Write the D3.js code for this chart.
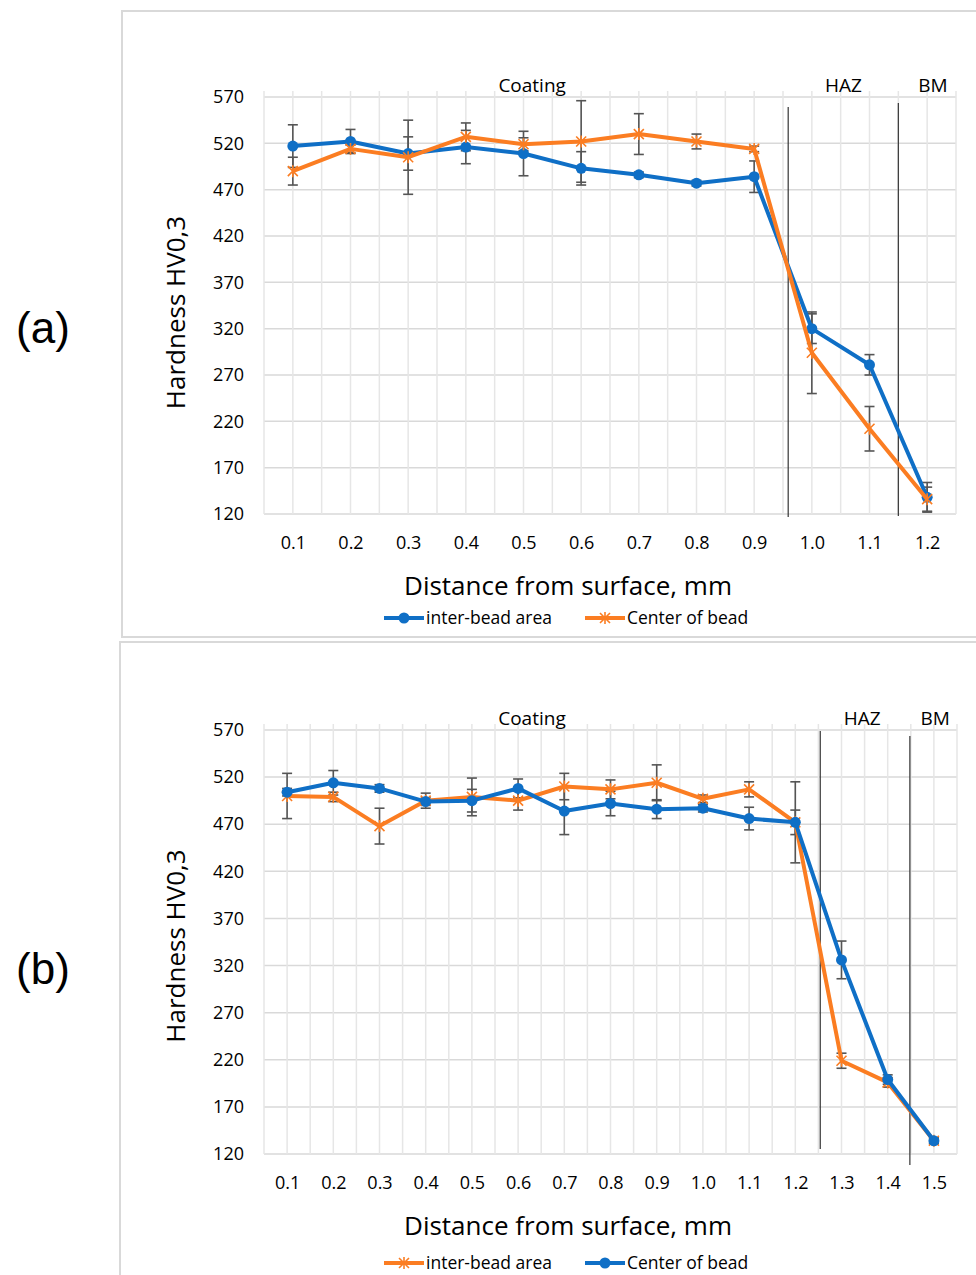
<!DOCTYPE html>
<html>
<head>
<meta charset="utf-8">
<script src="https://cdn.jsdelivr.net/npm/d3@7"></script>
<style>
  body { margin: 0; background: #fff; }
  text { font-family: "Open Sans", "Noto Sans", sans-serif; fill: #000; }
</style>
</head>
<body>
<div id="chart"></div>
<script>
var blue = "#0f6fc6", orange = "#fb7d22";

// y axis ticks, shared by both panels
var yTicks = [120, 170, 220, 270, 320, 370, 420, 470, 520, 570];

// panel (a)
var depthA = ["0.1","0.2","0.3","0.4","0.5","0.6","0.7","0.8","0.9","1.0","1.1","1.2"];
var interBeadA = [517, 522, 509, 516, 509, 493, 486, 477, 484, 320, 281, 138];
var interBeadErrA = [23, 13, 18, 18, 24, 18, 3, 3, 17, 16, 11, 16];
var centerA = [490, 514, 505, 527, 519, 522, 530, 522, 514, 294, 212, 136];
var centerErrA = [15, 4, 40, 15, 7, 44, 22, 8, 3, 44, 24, 13];

// panel (b)
var depthB = ["0.1","0.2","0.3","0.4","0.5","0.6","0.7","0.8","0.9","1.0","1.1","1.2","1.3","1.4","1.5"];
var interBeadB = [500, 499, 468, 495, 499, 495, 510, 507, 514, 497, 507, 472, 219, 196, 134];
var interBeadErrB = [24, 5, 19, 8, 20, 10, 14, 10, 19, 4, 8, 13, 8, 5, 3];
var centerB = [504, 514, 508, 494, 495, 508, 484, 492, 486, 487, 476, 472, 326, 199, 134];
var centerErrB = [4, 13, 4, 4, 12, 10, 25, 13, 10, 4, 12, 43, 20, 5, 3];

var svg = d3.select("#chart").append("svg")
  .attr("width", 976).attr("height", 1275);

function drawPanel(p) {
  var g = svg.append("g");

  // frame
  g.append("rect").attr("x", p.box[0]).attr("y", p.box[1])
    .attr("width", p.box[2]).attr("height", p.box[3])
    .attr("fill", "none").attr("stroke", "#d9d9d9").attr("stroke-width", 2);

  g.append("text").attr("x", 43).attr("y", p.tagY).attr("text-anchor", "middle")
    .style("font-size", "44px").style("font-family", "Liberation Sans, Arial, sans-serif")
    .text(p.tag);

  var x = d3.scalePoint().domain(p.cats).range([p.left, p.right]).padding(0.5);
  var step = x.step();
  var xi = function(i) { return x(p.cats[0]) + i * step; };
  var y = d3.scaleLinear().domain([120, 570]).range([p.bottom, p.top]);

  // grid: horizontal at ticks, vertical at every half category
  g.append("g").selectAll("line").data(yTicks).enter().append("line")
    .attr("x1", p.left).attr("x2", p.right)
    .attr("y1", function(d) { return y(d); }).attr("y2", function(d) { return y(d); })
    .attr("stroke", "#d9d9d9").attr("stroke-width", 1.5);
  var vx = d3.range(0, p.cats.length * 2 + 1).map(function(k) { return p.left + k * step / 2; });
  g.append("g").selectAll("line").data(vx).enter().append("line")
    .attr("x1", function(d) { return d; }).attr("x2", function(d) { return d; })
    .attr("y1", p.top - 6).attr("y2", p.bottom)
    .attr("stroke", "#e6e6e6").attr("stroke-width", 1.5);

  // axes
  var ya = g.append("g").attr("transform", "translate(" + (p.left - 20) + ",0)")
    .call(d3.axisLeft(y).tickValues(yTicks).tickSize(0).tickPadding(0));
  ya.select(".domain").remove();
  ya.selectAll("text").style("font-size", "18px");
  var xa = g.append("g").attr("transform", "translate(0," + (p.bottom + 22) + ")")
    .call(d3.axisBottom(x).tickSize(0).tickPadding(0));
  xa.select(".domain").remove();
  xa.selectAll("text").style("font-size", "18px");

  g.append("text").attr("x", 568).attr("y", p.bottom + 81).attr("text-anchor", "middle")
    .style("font-size", "26px").text("Distance from surface, mm");
  g.append("text").attr("transform", "translate(185," + ((p.top + p.bottom) / 2 + p.yTitleShift) + ") rotate(-90)")
    .attr("text-anchor", "middle").style("font-size", "26px").text("Hardness HV0,3");

  // zone boundaries
  p.zones.forEach(function(z) {
    g.append("line").attr("x1", xi(z[0])).attr("x2", xi(z[0]))
      .attr("y1", z[1]).attr("y2", z[2]).attr("stroke", "#333").attr("stroke-width", 1.2);
  });
  p.labels.forEach(function(l) {
    g.append("text").attr("x", xi(l[1])).attr("y", p.top - 5).attr("text-anchor", "middle")
      .style("font-size", "19px").text(l[0]);
  });

  var line = d3.line().x(function(d, i) { return x(p.cats[i]); }).y(function(d) { return y(d); });

  p.series.forEach(function(s) {
    // error bars
    var eb = g.append("g");
    s.values.forEach(function(v, i) {
      var cx = x(p.cats[i]), e = s.err[i];
      eb.append("line").attr("x1", cx).attr("x2", cx).attr("y1", y(v - e)).attr("y2", y(v + e))
        .attr("stroke", "#555").attr("stroke-width", 1.6);
      [v - e, v + e].forEach(function(c) {
        eb.append("line").attr("x1", cx - 5).attr("x2", cx + 5).attr("y1", y(c)).attr("y2", y(c))
          .attr("stroke", "#555").attr("stroke-width", 1.6);
      });
    });
  });
  p.series.forEach(function(s) {
    g.append("path").datum(s.values).attr("d", line)
      .attr("fill", "none").attr("stroke", s.color).attr("stroke-width", 4)
      .attr("stroke-linejoin", "round");
    s.values.forEach(function(v, i) {
      drawMarker(g, x(p.cats[i]), y(v), s);
    });
  });

  // legend
  p.series.forEach(function(s, k) {
    var lx = p.legendX[k], ly = p.legendY;
    g.append("line").attr("x1", lx).attr("x2", lx + 40).attr("y1", ly).attr("y2", ly)
      .attr("stroke", s.color).attr("stroke-width", 4);
    drawMarker(g, lx + 20, ly, s);
    g.append("text").attr("x", lx + 42).attr("y", ly).attr("dy", "0.35em")
      .style("font-size", "17.5px").text(s.name);
  });
}

function drawMarker(g, cx, cy, s) {
  if (s.marker === "circle") {
    g.append("circle").attr("cx", cx).attr("cy", cy).attr("r", 5.5).attr("fill", s.color);
  } else {
    var r = 5;
    g.append("path")
      .attr("d", "M" + (cx - r) + "," + (cy - r) + "L" + (cx + r) + "," + (cy + r) +
                 "M" + (cx - r) + "," + (cy + r) + "L" + (cx + r) + "," + (cy - r) +
                 "M" + cx + "," + (cy - r - 1) + "L" + cx + "," + (cy + r + 1))
      .attr("stroke", s.color).attr("stroke-width", 1.6).attr("fill", "none");
  }
}

drawPanel({
  box: [122, 11, 870, 626], tag: "(a)", tagY: 343,
  cats: depthA, left: 264, right: 956, top: 97, bottom: 514, yTitleShift: 7,
  zones: [[8.59, 107, 517], [10.5, 103, 516]],
  labels: [["Coating", 4.15], ["HAZ", 9.55], ["BM", 11.1]],
  series: [
    {name: "inter-bead area", values: interBeadA, err: interBeadErrA, color: blue, marker: "circle"},
    {name: "Center of bead", values: centerA, err: centerErrA, color: orange, marker: "star"}
  ],
  legendX: [384, 585], legendY: 618
});

drawPanel({
  box: [120, 642, 870, 650], tag: "(b)", tagY: 984,
  cats: depthB, left: 264, right: 957, top: 730, bottom: 1154, yTitleShift: 4,
  zones: [[11.54, 731, 1149], [13.48, 736, 1165]],
  labels: [["Coating", 5.3], ["HAZ", 12.45], ["BM", 14.03]],
  series: [
    {name: "inter-bead area", values: interBeadB, err: interBeadErrB, color: orange, marker: "star"},
    {name: "Center of bead", values: centerB, err: centerErrB, color: blue, marker: "circle"}
  ],
  legendX: [384, 585], legendY: 1263
});
</script>
</body>
</html>
